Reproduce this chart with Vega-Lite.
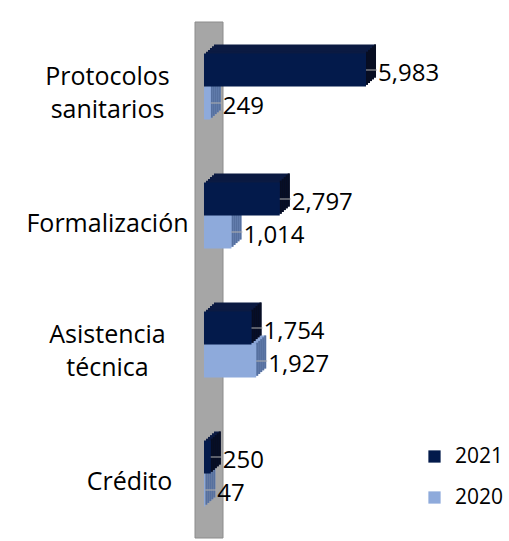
{
  "$schema": "https://vega.github.io/schema/vega-lite/v6.json",
  "autosize": {"type": "none"},
  "padding": {"left": 195, "top": 22, "right": 14, "bottom": 3},
  "width": 300,
  "height": 516,
  "background": "white",
  "config": {"view": {"stroke": null}, "font": "Open Sans"},
  "datasets": {
    "bars": [
      {"cat": "Protocolos sanitarios", "serie": "2021", "v": 5983},
      {"cat": "Protocolos sanitarios", "serie": "2020", "v": 249},
      {"cat": "Formalización", "serie": "2021", "v": 2797},
      {"cat": "Formalización", "serie": "2020", "v": 1014},
      {"cat": "Asistencia técnica", "serie": "2021", "v": 1754},
      {"cat": "Asistencia técnica", "serie": "2020", "v": 1927},
      {"cat": "Crédito", "serie": "2021", "v": 250},
      {"cat": "Crédito", "serie": "2020", "v": 47}
    ],
    "wall": [{"a": -332, "b": 702}]
  },
  "layer": [
    {
      "data": {"name": "wall"},
      "mark": {"type": "rect", "color": "#a6a6a6", "stroke": "#8c8c8c", "strokeWidth": 1},
      "encoding": {
        "x": {"field": "a", "type": "quantitative", "scale": {"domain": [-332, 10746]}, "axis": null},
        "x2": {"field": "b"}
      }
    },
    {
      "data": {"name": "bars"},
      "transform": [{"filter": "datum.serie == '2020'"}],
      "encoding": {
        "y": {
          "field": "cat", "type": "nominal",
          "scale": {"domain": ["Protocolos sanitarios", "Formalización", "Asistencia técnica", "Crédito"], "paddingInner": 0, "paddingOuter": 0},
          "axis": {
            "title": null, "domain": false, "ticks": false,
            "labelPadding": {"condition": {"test": "datum.value == 'Crédito'", "value": 66}, "value": 88},
            "labelAlign": "center", "labelFontSize": 25, "labelColor": "#000000",
            "labelOffset": {"condition": {"test": "indexof(datum.value, ' ') >= 0", "value": -10}, "value": 8},
            "labelLineHeight": 33,
            "labelExpr": "split(datum.label, ' ')"
          }
        },
        "x": {"field": "v", "type": "quantitative", "scale": {"domain": [-332, 10746]}, "axis": null}
      },
      "layer": [
        {"mark": {"type": "bar", "height": 33, "color": "#8aa5d6", "xOffset": 10, "x2Offset": 10, "yOffset": 7.5}},
        {"mark": {"type": "bar", "height": 33, "color": "#8aa5d6", "xOffset": 8, "x2Offset": 8, "yOffset": 9.3}},
        {"mark": {"type": "bar", "height": 33, "color": "#8aa5d6", "xOffset": 6, "x2Offset": 6, "yOffset": 11.1}},
        {"mark": {"type": "bar", "height": 33, "color": "#8aa5d6", "xOffset": 4, "x2Offset": 4, "yOffset": 12.9}},
        {"mark": {"type": "bar", "height": 33, "color": "#8aa5d6", "xOffset": 2, "x2Offset": 2, "yOffset": 14.7}},
        {"mark": {"type": "bar", "height": 33, "color": "#56709f", "xOffset": 0, "x2Offset": 2, "yOffset": 14.7}, "encoding": {"x2": {"field": "v"}}},
        {"mark": {"type": "bar", "height": 33, "color": "#56709f", "xOffset": 2, "x2Offset": 4, "yOffset": 12.9}, "encoding": {"x2": {"field": "v"}}},
        {"mark": {"type": "bar", "height": 33, "color": "#56709f", "xOffset": 4, "x2Offset": 6, "yOffset": 11.1}, "encoding": {"x2": {"field": "v"}}},
        {"mark": {"type": "bar", "height": 33, "color": "#56709f", "xOffset": 6, "x2Offset": 8, "yOffset": 9.3}, "encoding": {"x2": {"field": "v"}}},
        {"mark": {"type": "bar", "height": 33, "color": "#56709f", "xOffset": 8, "x2Offset": 10, "yOffset": 7.5}, "encoding": {"x2": {"field": "v"}}},
        {
          "mark": {"type": "bar", "height": 33, "yOffset": 16.5},
          "encoding": {
            "color": {
              "field": "serie", "type": "nominal",
              "scale": {"domain": ["2021", "2020"], "range": ["#031a4b", "#8eaadb"]},
              "legend": {
                "title": null, "orient": "none", "legendX": 229, "legendY": 424,
                "symbolType": "square", "symbolSize": 150, "symbolStrokeWidth": 0,
                "labelFontSize": 21, "labelColor": "#000000", "rowPadding": 19,
                "labelOffset": 10, "labelFont": "Open Sans"
              }
            }
          }
        },
        {"mark": {"type": "rule", "color": "#b0b0b0", "strokeWidth": 1, "yOffset": 16.5, "x2Offset": 11}, "encoding": {"x2": {"field": "v"}}},
        {
          "mark": {"type": "text", "align": "left", "baseline": "middle", "dx": 12, "yOffset": 20.5, "fontSize": 24, "color": "#000000"},
          "encoding": {"text": {"field": "v", "type": "quantitative", "format": ","}}
        }
      ]
    },
    {
      "data": {"name": "bars"},
      "transform": [{"filter": "datum.serie == '2021'"}],
      "encoding": {
        "y": {
          "field": "cat", "type": "nominal",
          "scale": {"domain": ["Protocolos sanitarios", "Formalización", "Asistencia técnica", "Crédito"], "paddingInner": 0, "paddingOuter": 0},
          "axis": {
            "title": null, "domain": false, "ticks": false,
            "labelPadding": {"condition": {"test": "datum.value == 'Crédito'", "value": 66}, "value": 88},
            "labelAlign": "center", "labelFontSize": 25, "labelColor": "#000000",
            "labelOffset": {"condition": {"test": "indexof(datum.value, ' ') >= 0", "value": -10}, "value": 8},
            "labelLineHeight": 33,
            "labelExpr": "split(datum.label, ' ')"
          }
        },
        "x": {"field": "v", "type": "quantitative", "scale": {"domain": [-332, 10746]}, "axis": null}
      },
      "layer": [
        {"mark": {"type": "bar", "height": 33, "color": "#0b1a42", "xOffset": 10, "x2Offset": 10, "yOffset": -25.5}},
        {"mark": {"type": "bar", "height": 33, "color": "#0b1a42", "xOffset": 8, "x2Offset": 8, "yOffset": -23.7}},
        {"mark": {"type": "bar", "height": 33, "color": "#0b1a42", "xOffset": 6, "x2Offset": 6, "yOffset": -21.9}},
        {"mark": {"type": "bar", "height": 33, "color": "#0b1a42", "xOffset": 4, "x2Offset": 4, "yOffset": -20.1}},
        {"mark": {"type": "bar", "height": 33, "color": "#0b1a42", "xOffset": 2, "x2Offset": 2, "yOffset": -18.3}},
        {"mark": {"type": "bar", "height": 33, "color": "#070d22", "xOffset": 0, "x2Offset": 2, "yOffset": -18.3}, "encoding": {"x2": {"field": "v"}}},
        {"mark": {"type": "bar", "height": 33, "color": "#070d22", "xOffset": 2, "x2Offset": 4, "yOffset": -20.1}, "encoding": {"x2": {"field": "v"}}},
        {"mark": {"type": "bar", "height": 33, "color": "#070d22", "xOffset": 4, "x2Offset": 6, "yOffset": -21.9}, "encoding": {"x2": {"field": "v"}}},
        {"mark": {"type": "bar", "height": 33, "color": "#070d22", "xOffset": 6, "x2Offset": 8, "yOffset": -23.7}, "encoding": {"x2": {"field": "v"}}},
        {"mark": {"type": "bar", "height": 33, "color": "#070d22", "xOffset": 8, "x2Offset": 10, "yOffset": -25.5}, "encoding": {"x2": {"field": "v"}}},
        {
          "mark": {"type": "bar", "height": 33, "yOffset": -16.5},
          "encoding": {
            "color": {
              "field": "serie", "type": "nominal",
              "scale": {"domain": ["2021", "2020"], "range": ["#031a4b", "#8eaadb"]},
              "legend": {
                "title": null, "orient": "none", "legendX": 229, "legendY": 424,
                "symbolType": "square", "symbolSize": 150, "symbolStrokeWidth": 0,
                "labelFontSize": 21, "labelColor": "#000000", "rowPadding": 19,
                "labelOffset": 10, "labelFont": "Open Sans"
              }
            }
          }
        },
        {"mark": {"type": "rule", "color": "#b0b0b0", "strokeWidth": 1, "yOffset": -16.5, "x2Offset": 11}, "encoding": {"x2": {"field": "v"}}},
        {
          "mark": {"type": "text", "align": "left", "baseline": "middle", "dx": 12, "yOffset": -12.5, "fontSize": 24, "color": "#000000"},
          "encoding": {"text": {"field": "v", "type": "quantitative", "format": ","}}
        }
      ]
    }
  ]
}
